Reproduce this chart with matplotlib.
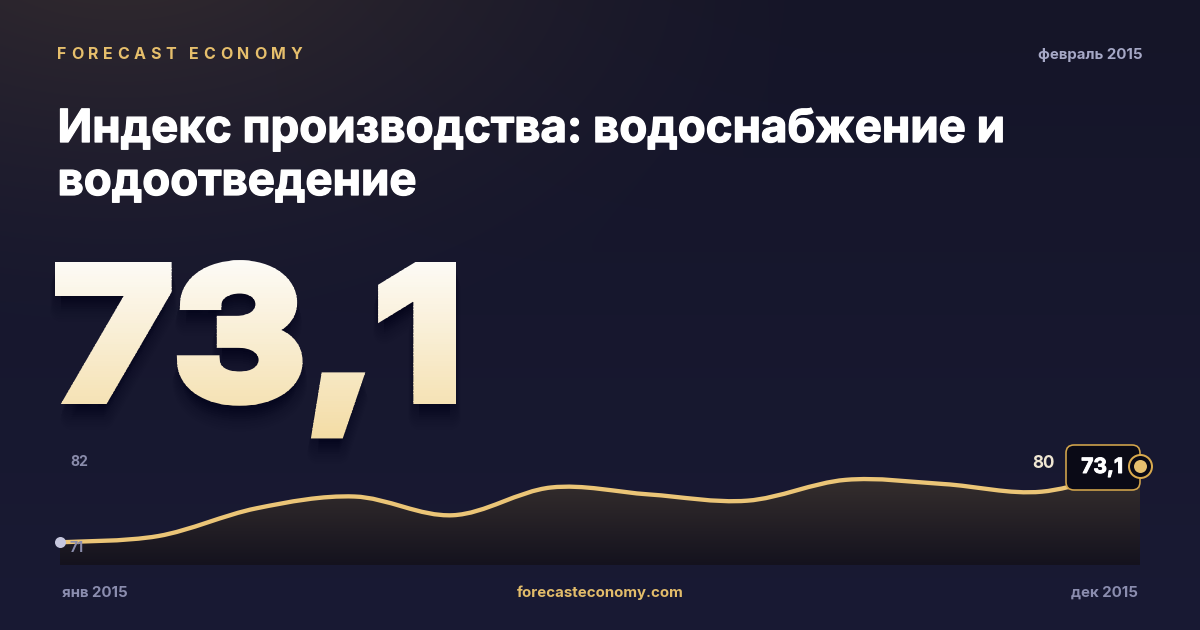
import numpy as np
import matplotlib
matplotlib.use('Agg')
import matplotlib.pyplot as plt
import matplotlib.patheffects as pe
from matplotlib.path import Path
from matplotlib.patches import PathPatch, FancyBboxPatch, Rectangle
from matplotlib.textpath import TextPath
from matplotlib.font_manager import FontProperties
from matplotlib.transforms import Affine2D

# ---------------- data ----------------
months = ['янв', 'фев', 'мар', 'апр', 'май', 'июн', 'июл', 'авг', 'сен', 'окт', 'ноя', 'дек']
values = [71.0, 71.9, 75.9, 77.6, 74.9, 78.9, 77.9, 77.0, 80.0, 79.4, 78.3, 82.0]
y_tick_labels = ['71', '82']
headline_value = '73,1'
badge_value = '73,1'
side_label = '80'
brand = 'FORECAST ECONOMY'
date_label = 'февраль 2015'
title_lines = ['Индекс производства: водоснабжение и', 'водоотведение']
x_start_label = 'янв 2015'
x_end_label = 'дек 2015'
site = 'forecasteconomy.com'

FAMILY = ['Inter', 'DejaVu Sans']
GOLD = '#ebc577'
W, H = 1200, 630
PT = 72 / 100.0  # px -> pt

fig = plt.figure(figsize=(12, 6.3), dpi=100)
renderer = fig.canvas.get_renderer()
bg = fig.add_axes([0, 0, 1, 1])
bg.set_xlim(0, W)
bg.set_ylim(H, 0)
bg.axis('off')

# ---------------- background ----------------
yy, xx = np.mgrid[0:H, 0:W].astype(float)
t = (yy / H)[..., None]
base_top = np.array([21, 21, 40], float)
base_bot = np.array([25, 26, 52], float)
img = base_top * (1 - t) + base_bot * t
d = np.hypot((xx - 120) / 750.0, (yy + 80) / 430.0)
glow = np.clip(1 - d, 0, 1) ** 1.5
img += glow[..., None] * np.array([34, 25, 8], float)
bg.imshow(np.clip(img, 0, 255) / 255.0, extent=(0, W, H, 0), aspect='auto', zorder=0,
          interpolation='bilinear')


def fit_text(axh, x, y, s, target_w, size0, **kw):
    tt = axh.text(x, y, s, fontsize=size0, **kw)
    w = tt.get_window_extent(renderer).width
    tt.set_fontsize(size0 * target_w / w)
    return tt


def text_w(s, size, weight='bold'):
    tt = bg.text(0, 0, s, fontsize=size, fontweight=weight, family=FAMILY)
    w = tt.get_window_extent(renderer).width
    tt.remove()
    return w


def heavy(color, px):
    return [pe.Stroke(linewidth=px * PT, foreground=color), pe.Normal()]


# ---------------- brand with tracking ----------------
bsize = 16 * PT
chars = list(brand)
cw = [text_w(c, bsize) if c != ' ' else 0 for c in chars]
space_w = text_w('F F', bsize) - text_w('FF', bsize)
cw = [space_w if c == ' ' else w for c, w in zip(chars, cw)]
target = 302 - 57
track = (target - sum(cw)) / (len(chars) - 1)
xpos = 57
for c, w in zip(chars, cw):
    if c != ' ':
        bg.text(xpos, 59, c, fontsize=bsize, fontweight='bold', family=FAMILY,
                color='#e6bf6c', ha='left', va='baseline', zorder=3)
    xpos += w + track

bg.text(1143, 59, date_label, fontsize=15 * PT, fontweight='bold', family=FAMILY,
        color='#a6a8c6', ha='right', va='baseline', zorder=3)

# ---------------- title ----------------
t1 = fit_text(bg, 57.5, 142, title_lines[0], 1004 - 57, 48 * PT, fontweight='bold',
              family=FAMILY, color='white', ha='left', va='baseline', zorder=3,
              path_effects=heavy('white', 1.3))
bg.text(57.5, 195, title_lines[1], fontsize=t1.get_fontsize(), fontweight='bold',
        family=FAMILY, color='white', ha='left', va='baseline', zorder=3,
        path_effects=heavy('white', 1.3))

# ---------------- big number: heavy, gradient ----------------
STROKE = 12.0  # px of extra weight
hs = STROKE / 2
fp_big = FontProperties(family='Inter', weight='bold')
tp = TextPath((0, 0), headline_value, size=100, prop=fp_big)
seven = TextPath((0, 0), headline_value[0], size=100, prop=fp_big)
cap = seven.get_extents().y1
ext = tp.get_extents()
top_px, base_px, left_px, right_px = 262 + hs, 404 - hs, 55 + hs, 456 - hs
sy = (base_px - top_px) / cap
sx = (right_px - left_px) / (ext.x1 - ext.x0)
tr = Affine2D().translate(-ext.x0, 0).scale(sx, -sy).translate(left_px, base_px)
big_path = tr.transform_path(tp)

# soft shadow
for k in range(10):
    sh = Affine2D().translate(0, 3 + 2 * k).transform_path(big_path)
    bg.add_patch(PathPatch(sh, facecolor='#05050c', edgecolor='#05050c',
                           lw=(STROKE + k) * PT, joinstyle='round', alpha=0.025, zorder=2))

# gradient fill by horizontal bands
c_top = np.array([253, 252, 249]) / 255.0
c_bot = np.array([243, 219, 162]) / 255.0
y0b, y1b = 255.0, 445.0
nb = 70
edges = np.linspace(y0b, y1b, nb + 1)
for i in range(nb):
    f = (i + 0.5) / nb
    col = c_top * (1 - f) + c_bot * f
    rect = Rectangle((0, edges[i] - 0.3), 600, (edges[i + 1] - edges[i]) + 0.6,
                     transform=bg.transData, facecolor='none', edgecolor='none')
    pp = PathPatch(big_path, facecolor=col, edgecolor=col, lw=STROKE * PT,
                   joinstyle='miter', zorder=3)
    bg.add_patch(pp)
    pp.set_clip_path(rect)

# ---------------- chart ----------------
k_px = (542.3 - 466.0) / (max(values) - min(values))
ylo = min(values) - (565 - 542.3) / k_px
yhi = min(values) + (542.3 - 440) / k_px
ax = fig.add_axes([60 / W, (H - 565) / H, 1080 / W, 125 / H])
ax.set_xlim(0, len(values) - 1)
ax.set_ylim(ylo, yhi)
ax.axis('off')
ax.patch.set_alpha(0)

x = np.arange(len(values), dtype=float)
y = np.array(values, dtype=float)
n = len(x)
verts = [(x[0], y[0])]
codes = [Path.MOVETO]
for i in range(n - 1):
    i0, i1, i2, i3 = max(i - 1, 0), i, i + 1, min(i + 2, n - 1)
    c1 = (x[i1] + (x[i2] - x[i0]) / 6, y[i1] + (y[i2] - y[i0]) / 6)
    c2 = (x[i2] - (x[i3] - x[i1]) / 6, y[i2] - (y[i3] - y[i1]) / 6)
    verts += [c1, c2, (x[i2], y[i2])]
    codes += [Path.CURVE4] * 3
curve = Path(verts, codes)
fill_path = Path(verts + [(x[-1], ylo), (x[0], ylo), (x[0], y[0])],
                 codes + [Path.LINETO, Path.LINETO, Path.CLOSEPOLY])
fclip = PathPatch(fill_path, facecolor='none', edgecolor='none')
ax.add_patch(fclip)
g2 = np.linspace(0, 1, 256)[:, None, None]
f_top = np.array([68, 59, 52]) / 255.0
f_bot = np.array([20, 18, 30]) / 255.0
fgrad = np.repeat(f_top * (1 - g2) + f_bot * g2, 2, axis=1)
fim = ax.imshow(fgrad, extent=(0, n - 1, ylo, yhi), aspect='auto', zorder=1,
                interpolation='bilinear', origin='upper')
fim.set_clip_path(fclip)
ax.add_patch(PathPatch(curve, facecolor='none', edgecolor=GOLD, lw=3.1,
                       capstyle='round', joinstyle='round', zorder=3, clip_on=False))

# start marker
ax.plot(x[0], y[0], 'o', ms=11 * PT, color='#c6c7de', mec='none', zorder=4, clip_on=False)

# badge box (pixel coords)
box = FancyBboxPatch((1066, 445), 74, 45, boxstyle='round,pad=0,rounding_size=8',
                     transform=bg.transData, facecolor='#0a0a16', edgecolor='#d4a64c',
                     lw=1.6 * PT, zorder=5, clip_on=False)
ax.add_patch(box)
ax.text(1102, 467, badge_value, transform=bg.transData, fontsize=21 * PT,
        fontweight='bold', family=FAMILY, color='white', ha='center', va='center',
        zorder=6, clip_on=False, path_effects=heavy('white', 1.0))
# end marker ring
ax.plot(x[-1], y[-1], 'o', ms=23 * PT, mfc='#0a0a16', mec='#d9aa4e', mew=2.0 * PT,
        zorder=7, clip_on=False)
ax.plot(x[-1], y[-1], 'o', ms=13 * PT, color='#e6c06e', mec='none', zorder=8, clip_on=False)

# labels around chart
bg.text(70, 466, y_tick_labels[1], fontsize=14 * PT, fontweight='bold', family=FAMILY,
        color='#8a8cab', ha='left', va='baseline', zorder=3)
ax.text(70, 552, y_tick_labels[0], transform=bg.transData, fontsize=14 * PT,
        fontweight='bold', family=FAMILY, color='#8a8cab', ha='left', va='baseline',
        zorder=5, clip_on=False)
bg.text(1032, 468, side_label, fontsize=17 * PT, fontweight='bold', family=FAMILY,
        color='#efe6d2', ha='left', va='baseline', zorder=3)

bg.text(62, 597, x_start_label, fontsize=15 * PT, fontweight='bold', family=FAMILY,
        color='#8b8daf', ha='left', va='baseline', zorder=3)
bg.text(1138, 597, x_end_label, fontsize=15 * PT, fontweight='bold', family=FAMILY,
        color='#8b8daf', ha='right', va='baseline', zorder=3)
bg.text(600, 597, site, fontsize=15 * PT, fontweight='bold', family=FAMILY,
        color='#e2bc6a', ha='center', va='baseline', zorder=3)

fig.savefig('out.png', dpi=100)
